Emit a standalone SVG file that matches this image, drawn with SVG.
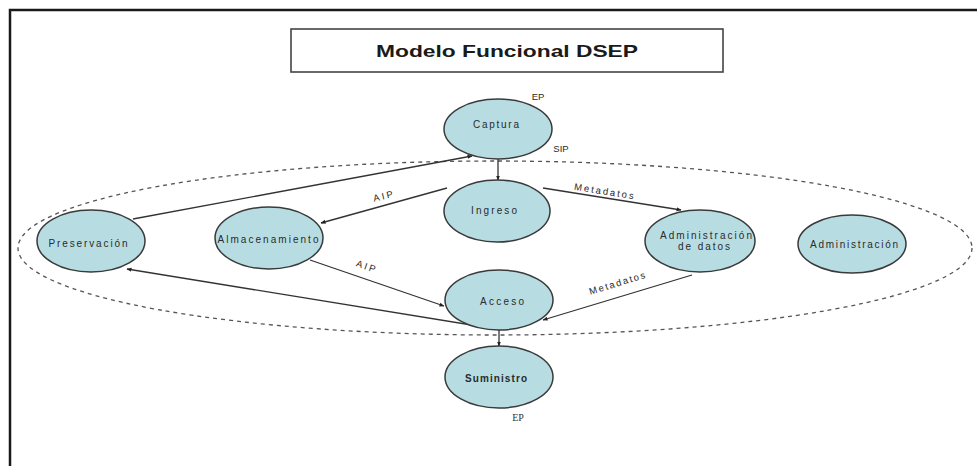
<svg xmlns="http://www.w3.org/2000/svg" width="977" height="466" viewBox="0 0 977 466">
<style>
.node{fill:#b7dde3;stroke:#3a3a3a;stroke-width:1.5}
.lbl{font-family:"Liberation Sans",Arial,sans-serif;font-size:10px;fill:#2a2a2a;text-anchor:middle;dominant-baseline:central}
.small{font-family:"Liberation Sans",Arial,sans-serif;font-size:9.5px;fill:#2a2a2a;text-anchor:middle;dominant-baseline:central}
.edge{stroke:#333;stroke-width:1.3;fill:none;marker-end:url(#arr)}
</style>
<defs>
<marker id="arr" viewBox="0 0 10 10" refX="9" refY="5" markerWidth="5" markerHeight="5" orient="auto" markerUnits="userSpaceOnUse">
<path d="M0,1 L10,5 L0,9 Z" fill="#222"/>
</marker>
</defs>
<rect width="977" height="466" fill="#fff"/>
<path d="M10,466 V10 H977" fill="none" stroke="#1a1a1a" stroke-width="2.5"/>
<g id="title">
<rect x="291" y="29" width="432" height="43" fill="#fff" stroke="#444" stroke-width="1.6"/>
<text x="507" y="51" font-family="'Liberation Sans',Arial,sans-serif" font-size="17" font-weight="bold" fill="#1a1a1a" text-anchor="middle" dominant-baseline="central" textLength="262" lengthAdjust="spacingAndGlyphs">Modelo Funcional DSEP</text>
</g>
<ellipse id="boundary" cx="495" cy="248" rx="477" ry="87" fill="none" stroke="#555" stroke-width="1.3" stroke-dasharray="4,4"/>
<g id="connectors">
<line class="edge" x1="498" y1="159" x2="498" y2="180"/>
<line class="edge" x1="447" y1="188" x2="321" y2="223"/>
<line class="edge" x1="133" y1="219" x2="472" y2="156"/>
<line class="edge" x1="310" y1="260" x2="444" y2="306"/>
<line class="edge" x1="490" y1="328" x2="127" y2="269"/>
<line class="edge" x1="543" y1="188" x2="681" y2="210"/>
<line class="edge" x1="692" y1="275" x2="543" y2="320"/>
<line class="edge" x1="499" y1="330" x2="499" y2="346"/>
<text class="small" x="383" y="196" transform="rotate(-13 383 196)" textLength="20" lengthAdjust="spacing">AIP</text>
<text class="small" x="366" y="266" transform="rotate(19 366 266)" textLength="20" lengthAdjust="spacing">AIP</text>
<text class="small" x="604" y="191" transform="rotate(9 604 191)" textLength="60" lengthAdjust="spacing">Metadatos</text>
<text class="small" x="617" y="283" transform="rotate(-17 617 283)" textLength="58" lengthAdjust="spacing">Metadatos</text>
</g>
<g id="captura">
<ellipse class="node" cx="498" cy="129" rx="54" ry="30"/>
<text class="lbl" x="496" y="124" textLength="46" lengthAdjust="spacing">Captura</text>
<text class="small" x="538" y="96">EP</text>
<text class="small" x="561" y="148">SIP</text>
</g>
<g id="ingreso">
<ellipse class="node" cx="497" cy="211" rx="53" ry="31"/>
<text class="lbl" x="494" y="210" textLength="46" lengthAdjust="spacing">Ingreso</text>
</g>
<g id="preservacion">
<ellipse class="node" cx="91" cy="241" rx="54" ry="31"/>
<text class="lbl" x="88" y="243" textLength="79" lengthAdjust="spacing">Preservación</text>
</g>
<g id="almacenamiento">
<ellipse class="node" cx="269" cy="238" rx="54" ry="31"/>
<text class="lbl" x="268" y="239" textLength="101" lengthAdjust="spacing">Almacenamiento</text>
</g>
<g id="admin-datos">
<ellipse class="node" cx="700" cy="241" rx="55" ry="31"/>
<text class="lbl" x="706" y="235" textLength="92" lengthAdjust="spacing">Administración</text>
<text class="lbl" x="704" y="246" textLength="52" lengthAdjust="spacing">de datos</text>
</g>
<g id="administracion">
<ellipse class="node" cx="852" cy="244" rx="54" ry="29"/>
<text class="lbl" x="854" y="244" textLength="88" lengthAdjust="spacing">Administración</text>
</g>
<g id="acceso">
<ellipse class="node" cx="499" cy="300" rx="54" ry="30"/>
<text class="lbl" x="502" y="301" textLength="44" lengthAdjust="spacing">Acceso</text>
</g>
<g id="suministro">
<ellipse class="node" cx="499" cy="377" rx="54" ry="31"/>
<text class="lbl" x="496" y="378" font-weight="bold" textLength="62" lengthAdjust="spacing">Suministro</text>
<text x="518" y="417" font-family="'Liberation Serif','Times New Roman',serif" font-size="10" fill="#333" text-anchor="middle" dominant-baseline="central">EP</text>
</g>
</svg>
